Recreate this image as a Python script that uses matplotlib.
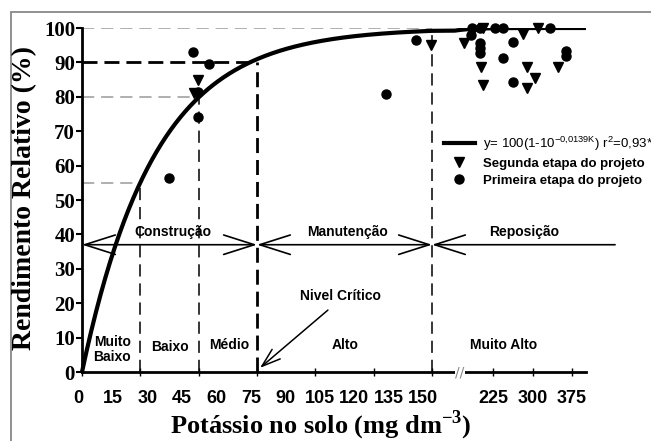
import numpy as np
import matplotlib
matplotlib.use("Agg")
import matplotlib.pyplot as plt
from matplotlib.lines import Line2D
from matplotlib.patches import Rectangle

plt.rcParams['mathtext.fontset'] = 'custom'
plt.rcParams['mathtext.rm'] = 'Liberation Serif:bold'
plt.rcParams['mathtext.sf'] = 'Liberation Sans'

# --- dados ---
# Primeira etapa do projeto (círculos)
k_primeira = [37.5, 47.5, 49.6, 49.9, 54.4, 130.3, 143.2,
              182, 185, 200, 200, 200, 200, 229, 243, 244, 262, 262, 333, 364, 364]
y_primeira = [56.5, 93.1, 74.0, 81.3, 89.6, 80.8, 96.5,
              98.0, 100, 100, 95.5, 94.1, 92.6, 100, 100, 91.2, 96.0, 84.4, 100, 93.4, 91.9]

# Segunda etapa do projeto (triângulos)
k_segunda = [48, 49.9, 149.4, 170, 201.6, 206.6, 206, 282, 289, 290, 305, 311, 349]
y_segunda = [81, 84.9, 95.1, 95.5, 88.7, 83.4, 100, 98.3, 88.7, 82.5, 85.4, 100, 88.7]

# modelo ajustado: y = 100(1 - 10^(-c K))
coef = 0.0139

# classes de fertilidade (limites em mg dm-3) e rendimento correspondente
limites = [25, 50, 75, 150]
rend_limites = [55, 80, 90]

xtick_vals = [0, 15, 30, 45, 60, 75, 90, 105, 120, 135, 150, 225, 300, 375]
tick_marks = [0, 25, 50, 75, 100, 125, 150, 225, 300, 375]
yticks = list(range(0, 101, 10))

# --- eixo x quebrado depois de 150 ---
U225, KR = 176.2, 0.2253
U150R = U225 - 75 * KR


def fwd(x):
    x = np.asarray(x, float)
    return np.where(x <= 150, x, U225 + (x - 225) * KR)


def inv(u):
    u = np.asarray(u, float)
    return np.where(u <= 150, u, np.where(u < U150R, 150.0, 225 + (u - U225) / KR))


fig = plt.figure(figsize=(6.51, 4.41), dpi=100)
ax = fig.add_axes([75 / 651, 69 / 441, 511 / 651, 344 / 441])
ax.set_xscale('function', functions=(fwd, inv))
ax.set_xlim(-3, 401.7)
ax.set_ylim(0, 100)

# curva
kk = np.concatenate([np.linspace(0, 150, 300), np.linspace(151, 400, 200)])
ax.plot(kk, 100 * (1 - 10 ** (-coef * kk)), color='black', lw=3, zorder=3)

# linhas de referência
gray = '#9a9a9a'
ax.plot([0, 150], [100, 100], color=gray, lw=1.1, dashes=(8, 4.5), zorder=1)
ax.plot([0, limites[0]], [rend_limites[0]] * 2, color=gray, lw=1.1, dashes=(8, 4.5), zorder=1)
ax.plot([0, limites[1]], [rend_limites[1]] * 2, color=gray, lw=1.1, dashes=(8, 4.5), zorder=1)
ax.plot([0, limites[2]], [rend_limites[2]] * 2, color='black', lw=2, dashes=(5.4, 2.5), zorder=1)
ax.plot([limites[0]] * 2, [0, rend_limites[0]], color='black', lw=1.1, dashes=(8, 4.5), zorder=1)
ax.plot([limites[1]] * 2, [0, rend_limites[1]], color='black', lw=1.1, dashes=(8, 4.5), zorder=1)
ax.plot([limites[2]] * 2, [0, rend_limites[2]], color='black', lw=2, dashes=(5.4, 2.5), zorder=1)
ax.plot([limites[3]] * 2, [0, 99.2], color='black', lw=1.1, dashes=(8, 4.5), zorder=1)

# pontos
ax.plot(k_segunda, y_segunda, 'v', color='black', ms=7, zorder=2, clip_on=False)
ax.plot(k_primeira, y_primeira, 'o', color='black', ms=6.5, zorder=4, clip_on=False)

# setas das fases
ya = 37
aprops = dict(arrowstyle='<->,head_length=1.1,head_width=0.35', color='black', lw=1.2,
              shrinkA=0, shrinkB=0, mutation_scale=20)
ax.annotate('', xy=(0, ya), xytext=(75, ya), arrowprops=aprops, annotation_clip=False)
ax.annotate('', xy=(75, ya), xytext=(150, ya), arrowprops=aprops, annotation_clip=False)
ax.annotate('', xy=(150, ya), xytext=(457, ya),
            arrowprops=dict(aprops, arrowstyle='->,head_length=1.1,head_width=0.35'),
            annotation_clip=False)

tf = dict(fontfamily='Liberation Sans', fontweight='bold', fontsize=10, ha='center', va='center')
ax.text(39, 40.6, 'Construção', **tf)
ax.text(113.6, 40.6, 'Manutenção', **tf)
ax.text(284, 40.6, 'Reposição', **tf)
ax.text(12.9, 6.6, 'Muito\nBaixo', linespacing=1.05, **tf)
ax.text(37.7, 7.4, 'Baixo', **tf)
ax.text(63, 7.8, 'Médio', **tf)
ax.text(112.7, 7.8, 'Alto', **tf)
ax.text(244, 7.8, 'Muito Alto', **tf)
ax.text(110.6, 22.1, 'Nivel Crítico', **tf)
ax.annotate('', xy=(76.3, 1.2), xytext=(105.4, 18),
            arrowprops=dict(arrowstyle='->,head_length=0.9,head_width=0.3', color='black',
                            lw=1.1, shrinkA=0, shrinkB=0, mutation_scale=15))

# eixos
for s in ['top', 'right']:
    ax.spines[s].set_visible(False)
ax.spines['left'].set_position(('data', 0))
ax.spines['bottom'].set_bounds(0, 401.7)
for s in ['left', 'bottom']:
    ax.spines[s].set_linewidth(2)

ax.set_yticks(yticks, [str(v) for v in yticks], fontfamily='Liberation Serif',
              fontweight='bold', fontsize=15)
ax.tick_params(axis='y', direction='out', length=4, width=1.5, pad=1)

xpos = [v * 0.986 - 1.6 for v in xtick_vals[:11]] + xtick_vals[11:]
ax.set_xticks(xpos, [str(v) for v in xtick_vals],
              fontfamily='Liberation Sans', fontweight='bold', fontsize=13)
ax.xaxis.remove_overlapping_locs = False
ax.set_xticks(tick_marks, minor=True)
ax.tick_params(axis='x', which='major', length=0, pad=13)
ax.tick_params(axis='x', which='minor', direction='inout', length=6, width=1)

# marca de quebra
ax.text(162, 0, '//', color='#888888', fontsize=10, ha='center', va='center',
        bbox=dict(facecolor='white', edgecolor='none', pad=0.2), clip_on=False)

fig.text(25 / 651, 1 - 198 / 441, 'Rendimento Relativo (%)', rotation=90,
         fontfamily='Liberation Serif', fontweight='bold', fontsize=20,
         ha='center', va='center')
fig.text(321 / 651, 1 - 425 / 441, 'Potássio no solo (mg dm$^{-3}$)',
         fontfamily='Liberation Serif', fontweight='bold', fontsize=19,
         ha='center', va='center')

# legenda
handles = [Line2D([], [], color='black', lw=3),
           Line2D([], [], ls='none', marker='v', color='black', ms=7),
           Line2D([], [], ls='none', marker='o', color='black', ms=6.5)]
labels = [r'y= 100(1-10$^{\mathsf{-0{,}0139K}}$) r$^{\mathsf{2}}$=0,93*',
          'Segunda etapa do projeto', 'Primeira etapa do projeto']
leg = fig.legend(handles, labels, loc='upper left', bbox_to_anchor=(437 / 651, 1 - 128 / 441),
                 frameon=False, borderpad=0, handlelength=2.4, handletextpad=0.6,
                 labelspacing=0.35, prop={'family': 'Liberation Sans', 'size': 9.5})
for t in leg.get_texts()[1:]:
    t.set_fontweight('bold')

fig.add_artist(Rectangle((11 / 651, -0.1), 1.0, 1 - 12 / 441 + 0.1, transform=fig.transFigure,
                         fill=False, edgecolor='#888888', lw=1.3))

fig.savefig('out.png', dpi=100)
